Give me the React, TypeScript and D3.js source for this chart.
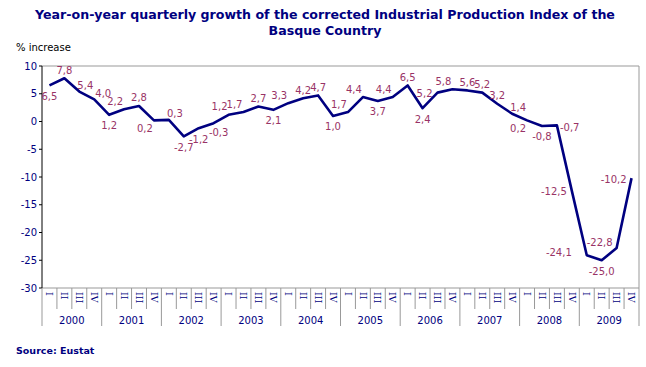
import React from 'react'
import * as d3 from 'd3'

const years = ['2000', '2001', '2002', '2003', '2004', '2005', '2006', '2007', '2008', '2009']
const quarters = ['I', 'II', 'III', 'IV']
const growth = [
  6.5, 7.8, 5.4, 4.0, 1.2, 2.2, 2.8, 0.2, 0.3, -2.7,
  -1.2, -0.3, 1.2, 1.7, 2.7, 2.1, 3.3, 4.2, 4.7, 1.0,
  1.7, 4.4, 3.7, 4.4, 6.5, 2.4, 5.2, 5.8, 5.6, 5.2,
  3.2, 1.4, 0.2, -0.8, -0.7, -12.5, -24.1, -25.0, -22.8, -10.2,
]
const yTicks = [10, 5, 0, -5, -10, -15, -20, -25, -30]
// where each value label sits relative to its point
const labelPlacement = [
  'b', 'a', 'ar', 'arr', 'b', 'al', 'a', 'bl', 'ar', 'b',
  'b', 'br', 'al', 'al', 'a', 'b', 'al', 'a', 'a', 'b',
  'al', 'al', 'b', 'al', 'a', 'b', 'l', 'al', 'a', 'a',
  'a', 'ar', 'bl', 'b', 'r', 'l', 'll', 'b', 'ul', 'l',
]

const nudge: Record<string, [number, number, string]> = {
  a: [0, -8, 'middle'],
  al: [-9, -8, 'middle'],
  ar: [6, -6, 'middle'],
  arr: [9, -6, 'middle'],
  b: [0, 11, 'middle'],
  bl: [-9, 8, 'middle'],
  br: [5, 9, 'middle'],
  l: [-5, 1, 'end'],
  ll: [-15, -3, 'end'],
  ul: [-4, -6, 'end'],
  r: [3, 2, 'start'],
}

const navy = '#000080'
const labelColor = '#993366'
const font = '"DejaVu Sans", Verdana, sans-serif'

export default function App() {
  const width = 646, height = 367
  const m = { left: 42, right: 639, top: 66, bottom: 288 }

  const keys = years.flatMap(y => quarters.map(q => `${y}-${q}`))
  const x = d3.scaleBand().domain(keys).range([m.left, m.right])
  const y = d3.scaleLinear().domain([-30, 10]).range([m.bottom, m.top])
  const cx = (i: number) => x(keys[i])! + x.bandwidth() / 2

  const line = d3.line<number>().x((_, i) => cx(i)).y(d => y(d))
  const fmt = (v: number) => v.toFixed(1).replace('.', ',')

  return (
    <svg width={width} height={height} style={{ position: 'absolute', left: 0, top: 0 }} fontFamily={font}>
      <rect width={width} height={height} fill="#fff" />
      <text x={325} y={19} textAnchor="middle" fontWeight="bold" fontSize={12.6} fill={navy}>
        Year-on-year quarterly growth of the corrected Industrial Production Index of the
      </text>
      <text x={325} y={35} textAnchor="middle" fontWeight="bold" fontSize={12.6} fill={navy}>
        Basque Country
      </text>
      <text x={16} y={51} fontSize={10} fill="#000">% increase</text>

      {/* plot frame */}
      <line x1={m.left} x2={m.right} y1={m.top} y2={m.top} stroke="#999" />
      <line x1={m.right} x2={m.right} y1={m.top} y2={m.bottom} stroke="#999" />
      <line x1={m.left} x2={m.right} y1={m.bottom} y2={m.bottom} stroke="#999" />
      <line x1={m.left} x2={m.left} y1={m.top} y2={m.bottom} stroke="#000" />

      {yTicks.map(t => (
        <g key={t}>
          <line x1={m.left - 3} x2={m.left} y1={y(t)} y2={y(t)} stroke="#000" />
          <text x={37} y={y(t)} dy="0.35em" textAnchor="end" fontSize={10} fill={navy}>{t}</text>
        </g>
      ))}

      {/* category axis */}
      {d3.range(keys.length + 1).map(k => {
        const xx = m.left + k * x.step()
        const yearEdge = k % 4 === 0
        return <line key={k} x1={xx} x2={xx} y1={m.bottom} y2={yearEdge ? 326 : 309} stroke="#999" />
      })}
      {keys.map((key, i) => (
        <text key={key} transform={`translate(${cx(i)},${m.bottom + 4}) rotate(90)`}
          dy="0.35em" fontSize={9.5} fontFamily='"DejaVu Serif", serif' fill={navy}>{quarters[i % 4]}</text>
      ))}
      {years.map((yr, j) => (
        <text key={yr} x={m.left + (j * 4 + 2) * x.step()} y={324} textAnchor="middle" fontSize={10} fill={navy}>{yr}</text>
      ))}

      <path d={line(growth)!} fill="none" stroke={navy} strokeWidth={2.6} strokeLinejoin="round" />

      {growth.map((v, i) => {
        const [dx, dy, anchor] = nudge[labelPlacement[i]]
        return (
          <text key={i} x={cx(i) + dx} y={y(v) + dy} dy="0.35em" textAnchor={anchor}
            fontSize={10} fill={labelColor}>{fmt(v)}</text>
        )
      })}

      <text x={16} y={354} fontWeight="bold" fontSize={9.5} fill={navy}>Source: Eustat</text>
    </svg>
  )
}
